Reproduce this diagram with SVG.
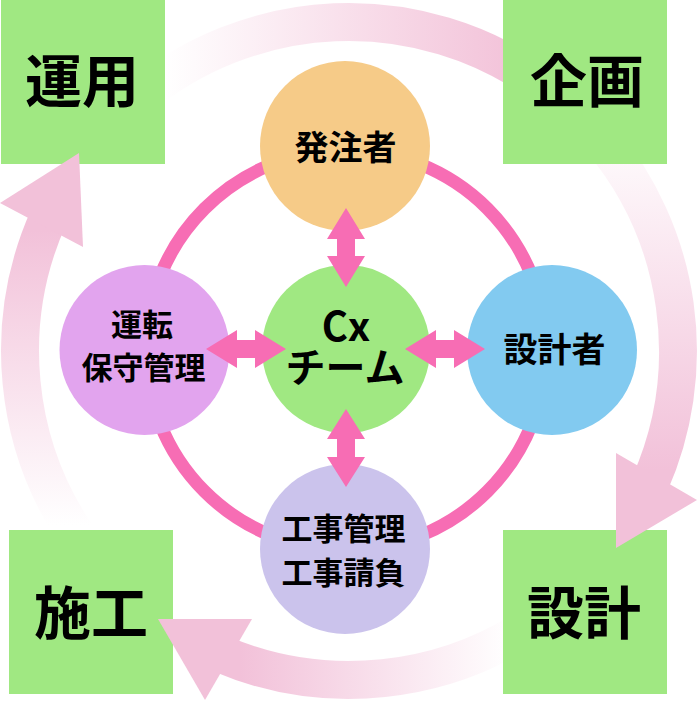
<svg xmlns="http://www.w3.org/2000/svg" width="698" height="702" viewBox="0 0 698 702">
<defs>
<style>
.cyc{fill:none;stroke-width:38}
.head{fill:#f2c1d9}
.box{fill:#a0e882}
.big{font-family:"Noto Sans CJK JP","Noto Sans",sans-serif;font-weight:bold;font-size:57px;fill:#000;text-anchor:middle}
.lbl{font-family:"Noto Sans CJK JP","Noto Sans",sans-serif;font-weight:bold;fill:#000;text-anchor:middle}
.ring{fill:none;stroke:#f76db4;stroke-width:13}
.dbl{fill:#f76db4}
</style>
<linearGradient id="gTop" gradientUnits="userSpaceOnUse" x1="165" y1="0" x2="505" y2="0">
<stop offset="0" stop-color="#ffffff"/><stop offset="1" stop-color="#f3c4da"/>
</linearGradient>
<linearGradient id="gRight" gradientUnits="userSpaceOnUse" x1="0" y1="120" x2="0" y2="470">
<stop offset="0" stop-color="#ffffff"/><stop offset="1" stop-color="#f2c1d9"/>
</linearGradient>
<linearGradient id="gBottom" gradientUnits="userSpaceOnUse" x1="510" y1="0" x2="240" y2="0">
<stop offset="0" stop-color="#ffffff"/><stop offset="1" stop-color="#f2c1d9"/>
</linearGradient>
<linearGradient id="gLeft" gradientUnits="userSpaceOnUse" x1="0" y1="525" x2="0" y2="230">
<stop offset="0" stop-color="#ffffff"/><stop offset="1" stop-color="#f2c1d9"/>
</linearGradient>
</defs>
<rect width="698" height="702" fill="#ffffff"/>

<g id="cycle-arcs">
<path class="cyc" stroke="url(#gTop)" d="M137.5,99 A329,329 0 0 1 537.7,81.5"/>
<path class="cyc" stroke="url(#gRight)" d="M601,139.5 A329,329 0 0 1 649.5,484.8"/>
<path class="cyc" stroke="url(#gBottom)" d="M537.7,620.5 A329,329 0 0 1 220.5,653.8"/>
<path class="cyc" stroke="url(#gLeft)" d="M79.5,539.7 A329,329 0 0 1 48.5,217.2"/>
</g>

<g id="phase-unyo"><rect class="box" x="1" y="0" width="164" height="164"/><text class="big" x="82" y="102">運用</text></g>
<g id="phase-kikaku"><rect class="box" x="503" y="0" width="164" height="164"/><text class="big" x="587" y="102">企画</text></g>
<g id="phase-seko"><rect class="box" x="9" y="530" width="164" height="164"/><text class="big" x="91" y="634">施工</text></g>
<g id="phase-sekkei"><rect class="box" x="503" y="530" width="164" height="164"/><text class="big" x="584" y="634">設計</text></g>

<g id="cycle-heads">
<polygon class="head" points="616,453 697,500 616,548"/>
<polygon class="head" points="158,619 252,619 205,700"/>
<polygon class="head" points="0,203 79,153 83,247"/>
</g>

<g id="ring"><circle class="ring" cx="346" cy="350" r="200"/></g>

<g id="node-hacchusha"><circle cx="345" cy="146" r="85" fill="#f6cb88"/><text class="lbl" font-size="34" x="345.5" y="160">発注者</text></g>
<g id="node-sekkeisha"><circle cx="552" cy="350" r="85" fill="#82caf0"/><text class="lbl" font-size="34" x="554.5" y="362">設計者</text></g>
<g id="node-unten"><circle cx="144.5" cy="350" r="85" fill="#e2a4ee"/><text class="lbl" font-size="31" x="142" y="336">運転</text><text class="lbl" font-size="31" x="143.5" y="379">保守管理</text></g>
<g id="node-koji"><circle cx="345" cy="549" r="85" fill="#cbc3ec"/><text class="lbl" font-size="31" x="343.5" y="540">工事管理</text><text class="lbl" font-size="31" x="343.5" y="584">工事請負</text></g>
<g id="node-cx"><circle cx="346" cy="349" r="84" fill="#a0e882"/><text class="lbl" font-size="40" x="346" y="341">Cx</text><text class="lbl" font-size="40" x="345" y="382">チーム</text></g>

<g id="connectors">
<polygon class="dbl" points="346,208 365,239 355,239 355,256 365,256 346,287 327,256 337,256 337,239 327,239"/>
<polygon class="dbl" points="346,409 365,439 355,439 355,457 365,457 346,487 327,457 337,457 337,439 327,439"/>
<polygon class="dbl" points="206,349 237,330 237,340 255,340 255,330 286,349 255,368 255,358 237,358 237,368"/>
<polygon class="dbl" points="405,349 436,330 436,340 454,340 454,330 485,349 454,368 454,358 436,358 436,368"/>
</g>
</svg>
